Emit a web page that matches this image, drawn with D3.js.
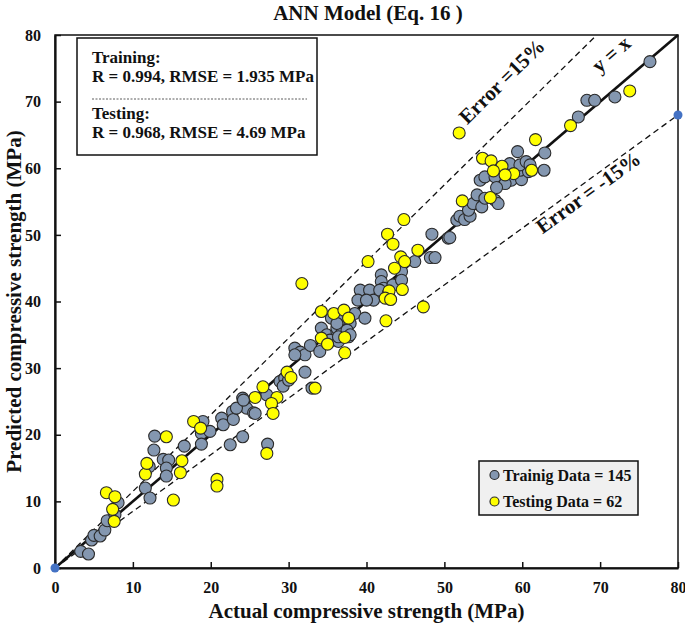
<!DOCTYPE html>
<html>
<head>
<meta charset="utf-8">
<script src="https://cdn.jsdelivr.net/npm/d3@7"></script>
<style>
  body { margin: 0; background: #fff; }
  text { font-family: "Liberation Serif", "Times New Roman", serif; font-weight: bold; fill: #111; }
</style>
</head>
<body>
<div id="chart"></div>
<script>
// training points [actual, predicted] (MPa)
var trainData = [[3.3,2.5],[4.3,2.1],[4.7,4.2],[5.0,4.9],[5.8,4.8],[6.4,5.7],[6.7,7.1],[7.7,8.0],[8.1,9.8],
  [11.6,12.0],[12.2,10.5],[12.1,15.2],[12.8,19.8],[12.7,17.7],[13.9,16.3],[14.6,16.2],[14.3,15.0],[14.3,13.8],[16.6,18.3],
  [18.8,20.2],[18.8,18.6],[19.9,20.5],[19.0,22.0],[21.4,22.5],[21.6,21.5],[22.8,23.5],[22.9,22.3],[22.5,18.5],[24.1,19.7],
  [24.1,25.5],[24.6,24.0],[25.5,23.3],[23.3,24.0],[24.2,25.2],[25.7,23.2],[27.2,26.0],[27.3,18.6],
  [28.9,28.0],[29.5,28.5],[29.3,27.3],[30.0,28.2],[32.1,29.4],[33.0,27.0],
  [30.8,33.0],[31.5,32.4],[32.1,32.0],[30.8,32.0],[32.8,33.4],[34.0,32.5],[34.2,36.0],[34.9,35.0],[36.2,35.5],[35.7,34.2],
  [35.3,34.2],[36.4,34.0],[36.2,36.0],[36.8,35.2],[35.5,37.5],[36.6,37.2],[37.9,36.7],[37.5,35.7],[36.4,34.7],[37.7,34.7],
  [38.5,38.2],[36.2,36.7],[37.9,35.0],
  [39.2,41.7],[40.4,41.7],[40.9,40.2],[38.9,40.2],[40.0,40.2],[39.8,37.5],[41.9,44.0],[41.9,43.0],[42.2,42.0],[43.4,42.5],
  [41.7,41.7],[42.8,41.2],[44.5,44.5],[44.5,43.2],[46.2,46.0],[48.2,46.6],[48.8,46.6],[48.4,50.1],[50.5,49.5],
  [50.7,49.6],[51.6,52.2],[52.0,52.8],[52.6,52.3],[53.3,52.8],[53.1,53.7],[53.7,54.7],[54.8,54.2],[54.2,56.0],[55.2,55.5],
  [56.5,55.2],[56.9,54.7],[54.6,58.2],[55.2,58.7],[56.5,58.7],[58.6,58.2],[59.9,58.3],[57.8,57.7],[56.7,57.1],[59.7,59.7],
  [60.8,59.5],[62.8,59.7],[58.4,60.7],[59.7,60.5],[60.5,61.0],[61.0,60.5],[59.4,62.5],[62.9,62.3],
  [67.2,67.7],[68.3,70.2],[69.3,70.2],[71.9,70.7],[76.4,76.0]];

// testing points [actual, predicted] (MPa)
var testData = [[6.6,11.3],[7.7,10.7],[7.4,8.8],[7.6,7.0],[11.6,14.1],[11.8,15.7],[14.3,19.7],[16.3,16.1],[16.1,14.3],
  [15.2,10.2],[17.8,22.0],[18.7,21.0],[20.8,13.3],[20.8,12.3],[25.7,25.6],[26.7,27.2],[28.5,25.6],[27.8,24.7],[28.0,23.2],
  [27.2,17.2],[29.8,29.4],[30.3,28.6],[33.4,27.0],[31.7,42.7],[34.2,38.5],[35.8,38.2],[37.1,38.7],[37.7,37.5],[34.2,34.5],
  [35.0,33.6],[37.2,34.6],[37.2,32.3],[40.2,46.0],[42.7,50.1],[43.4,48.6],[44.8,52.3],[44.4,46.7],[44.9,46.0],[43.6,45.0],
  [46.6,47.7],[44.6,41.8],[42.9,41.6],[42.4,40.5],[43.1,40.3],[47.3,39.2],[42.5,37.1],[51.9,65.3],[52.3,55.1],[55.9,55.6],
  [54.9,61.5],[56.0,61.1],[57.4,60.3],[56.3,59.6],[58.9,59.2],[57.8,59.0],[61.2,59.7],[61.7,64.3],[66.2,66.4],[73.8,71.6]];

var ticks = [0, 10, 20, 30, 40, 50, 60, 70, 80];
var statLines = ["Training:", "R = 0.994, RMSE = 1.935 MPa", "Testing:", "R = 0.968, RMSE = 4.69 MPa"];
var legendLabels = ["Trainig Data = 145", "Testing Data = 62"];
var refLines = [
  {name: "y = x", slope: 1.0},
  {name: "Error =15%", slope: 1.15},
  {name: "Error = -15%", slope: 0.85}
];

var W = 685, H = 626;
var margin = {top: 35, right: 7, bottom: 58, left: 55},
    width = W - margin.left - margin.right,
    height = H - margin.top - margin.bottom;

var svg = d3.select("#chart").append("svg")
    .attr("width", W).attr("height", H);
var g = svg.append("g")
    .attr("transform", "translate(" + margin.left + "," + margin.top + ")");

var x = d3.scaleLinear().domain([0, 80]).range([0, width]);
var y = d3.scaleLinear().domain([0, 80]).range([height, 0]);

// frame (top + right)
g.append("rect").attr("x", 0).attr("y", 0).attr("width", width).attr("height", height)
  .attr("fill", "none").attr("stroke", "#111").attr("stroke-width", 1.5);

// axes with inward ticks
var xAxis = g.append("g").attr("transform", "translate(0," + height + ")")
  .call(d3.axisBottom(x).tickValues(ticks).tickSizeInner(-6).tickSizeOuter(0).tickPadding(14));
var yAxis = g.append("g")
  .call(d3.axisLeft(y).tickValues(ticks).tickSizeInner(-6).tickSizeOuter(0).tickPadding(14));
[xAxis, yAxis].forEach(function(a) {
  a.select(".domain").attr("stroke", "#111").attr("stroke-width", 2.2);
  a.selectAll(".tick line").attr("stroke", "#111").attr("stroke-width", 1.5);
  a.selectAll(".tick text").attr("font-size", 16).attr("font-family", "Liberation Serif")
    .attr("font-weight", "bold").attr("fill", "#111");
});

// reference lines
refLines.forEach(function(r) {
  var xe = Math.min(80, 80 / r.slope);
  g.append("line")
    .attr("x1", x(0)).attr("y1", y(0))
    .attr("x2", x(xe)).attr("y2", y(xe * r.slope))
    .attr("stroke", "#111")
    .attr("stroke-width", r.slope === 1 ? 2.6 : 1.3)
    .attr("stroke-dasharray", r.slope === 1 ? null : "6,4");
});

// scatter
g.selectAll("circle.train").data(trainData).enter().append("circle")
  .attr("class", "train")
  .attr("cx", function(d) { return x(d[0]); })
  .attr("cy", function(d) { return y(d[1]); })
  .attr("r", 6)
  .attr("fill", "#8497b0").attr("stroke", "#2b2b2b").attr("stroke-width", 1.1);

g.selectAll("circle.test").data(testData).enter().append("circle")
  .attr("class", "test")
  .attr("cx", function(d) { return x(d[0]); })
  .attr("cy", function(d) { return y(d[1]); })
  .attr("r", 6)
  .attr("fill", "#ffff00").attr("stroke", "#2b2b2b").attr("stroke-width", 1.1);

// blue end markers of the -15% line
[[0, 0], [80, 68]].forEach(function(p) {
  g.append("circle").attr("cx", x(p[0])).attr("cy", y(p[1])).attr("r", 4.5)
    .attr("fill", "#4472c4");
});

// rotated line labels
function lineLabel(txt, dx, dy, slope) {
  var ang = -Math.atan(slope * (height / 80) / (width / 80)) * 180 / Math.PI;
  g.append("text")
    .attr("transform", "translate(" + x(dx) + "," + y(dy) + ") rotate(" + ang + ")")
    .attr("text-anchor", "middle")
    .attr("font-size", 21)
    .text(txt);
}
lineLabel(refLines[1].name, 58.0, 72.3, 1.15);
lineLabel(refLines[0].name, 72.0, 76.3, 1.0);
lineLabel(refLines[2].name, 69.0, 55.5, 0.85);

// stats box
var sb = g.append("g").attr("transform", "translate(" + (77 - margin.left) + "," + (38 - margin.top) + ")");
sb.append("rect").attr("width", 240).attr("height", 117)
  .attr("fill", "#fff").attr("stroke", "#111").attr("stroke-width", 1.5);
var lineY = [25, 44, 81, 100];
statLines.forEach(function(t, i) {
  sb.append("text").attr("x", 15).attr("y", lineY[i]).attr("font-size", 17).text(t);
});
sb.append("line").attr("x1", 15).attr("x2", 230).attr("y1", 61).attr("y2", 61)
  .attr("stroke", "#333").attr("stroke-width", 0.8).attr("stroke-dasharray", "2,1.5");

// legend
var lg = g.append("g").attr("transform", "translate(" + (479 - margin.left) + "," + (461 - margin.top) + ")");
lg.append("rect").attr("width", 159).attr("height", 54)
  .attr("fill", "#f0f0f0").attr("stroke", "#111").attr("stroke-width", 1.5);
var legendFill = ["#8497b0", "#ffff00"];
legendLabels.forEach(function(t, i) {
  lg.append("circle").attr("cx", 15.5).attr("cy", 14 + i * 26.5).attr("r", 4.5)
    .attr("fill", legendFill[i]).attr("stroke", "#2b2b2b").attr("stroke-width", 1.2);
  lg.append("text").attr("x", 24).attr("y", 19.5 + i * 26.5).attr("font-size", 16).text(t);
});

// title and axis titles
svg.append("text").attr("x", 368).attr("y", 20).attr("text-anchor", "middle")
  .attr("font-size", 21).text("ANN Model (Eq. 16 )");
svg.append("text").attr("x", margin.left + width / 2).attr("y", 618).attr("text-anchor", "middle")
  .attr("font-size", 21).text("Actual compressive strength (MPa)");
svg.append("text").attr("transform", "translate(21," + (margin.top + height / 2) + ") rotate(-90)")
  .attr("text-anchor", "middle").attr("font-size", 21).text("Predicted compressive strength (MPa)");
</script>
</body>
</html>
